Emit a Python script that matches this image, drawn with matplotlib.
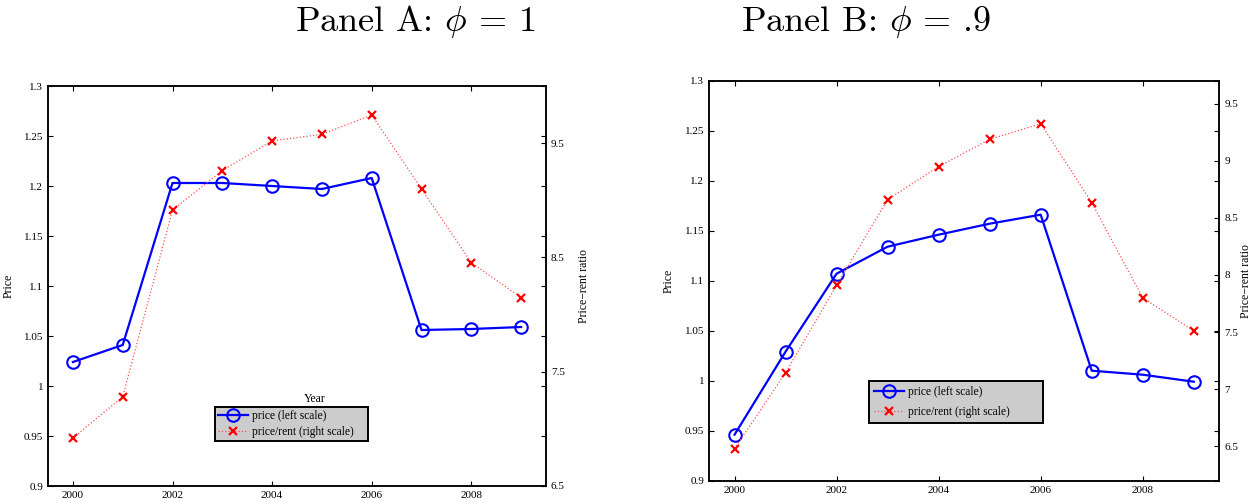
import matplotlib
matplotlib.use("Agg")
from matplotlib import pyplot as plt
import matplotlib.ticker as ticker

plt.rcParams["font.family"] = ["Liberation Serif", "DejaVu Serif"]
plt.rcParams["mathtext.fontset"] = "cm"

years = [2000, 2001, 2002, 2003, 2004, 2005, 2006, 2007, 2008, 2009]

# Panel A: phi = 1
price_a = [1.024, 1.041, 1.203, 1.203, 1.200, 1.197, 1.208, 1.056, 1.057, 1.059]
ratio_a = [6.92, 7.28, 8.915, 9.26, 9.52, 9.577, 9.746, 9.10, 8.454, 8.148]

# Panel B: phi = .9
price_b = [0.946, 1.029, 1.107, 1.134, 1.146, 1.157, 1.166, 1.010, 1.006, 0.999]
ratio_b = [6.48, 7.145, 7.91, 8.66, 8.948, 9.187, 9.324, 8.633, 7.80, 7.51]

left_ticks = [0.9, 0.95, 1.0, 1.05, 1.1, 1.15, 1.2, 1.25, 1.3]
year_ticks = [2000, 2002, 2004, 2006, 2008]

W, H = 1254, 503
fig = plt.figure(figsize=(W / 100, H / 100), dpi=100)

fs = 8


def panel(rect, price, ratio, rlim, rticks, legend_box, year_label,
          rlab_x, lspace, bpad):
    ax = fig.add_axes(rect)
    ax2 = ax.twinx()
    l1, = ax.plot(years, price, "-o", color="blue", lw=1.6, ms=9,
                  mfc="none", mew=1.5, label="price (left scale)")
    l2, = ax2.plot(years, ratio, ":x", color="#ff5050", mec="red", lw=0.9,
                   ms=6, mew=1.6, label="price/rent (right scale)")
    ax.set_xlim(1999.5, 2009.5)
    ax.set_ylim(0.9, 1.3)
    ax.set_yticks(left_ticks)
    ax.set_xticks(year_ticks)
    ax.yaxis.set_major_formatter(ticker.FormatStrFormatter("%g"))
    ax2.set_ylim(*rlim)
    ax2.set_yticks(rticks)
    ax2.yaxis.set_major_formatter(ticker.FormatStrFormatter("%g"))
    for a in (ax, ax2):
        for s in a.spines.values():
            s.set_linewidth(1.1)
        a.tick_params(direction="in", length=3.5, width=0.8, labelsize=fs)
    ax.tick_params(top=True, right=True)
    ax.set_ylabel("Price", fontsize=8.5)
    ax.yaxis.set_label_coords(-0.068, 0.5)
    ax2.set_ylabel("Price\u2212rent ratio", fontsize=8.5)
    ax2.yaxis.set_label_coords(rlab_x, 0.5)
    if year_label:
        ax.set_xlabel("Year", fontsize=8.5)
        ax.xaxis.set_label_coords(0.536, 0.232)
    x0, y0, x1, y1 = legend_box
    leg = fig.legend([l1, l2], [l1.get_label(), l2.get_label()],
                     loc="lower left",
                     bbox_to_anchor=(x0 / W, 1 - y1 / H, (x1 - x0) / W, (y1 - y0) / H),
                     bbox_transform=fig.transFigure, mode="expand",
                     borderaxespad=0, fontsize=8.3, fancybox=False,
                     framealpha=1, facecolor="#cccccc", edgecolor="black",
                     handlelength=2.6, handletextpad=0.3, borderpad=bpad,
                     labelspacing=lspace)
    leg.get_frame().set_linewidth(1.4)
    return ax, ax2


panel([48 / W, 1 - 486 / H, 498 / W, 400 / H], price_a, ratio_a,
      (6.5, 10.0), [6.5, 7.5, 8.5, 9.5], (215, 406, 368, 441), True,
      1.065, 0.3, 0.3)
panel([709 / W, 1 - 480.7 / H, 510.3 / W, 400 / H], price_b, ratio_b,
      (6.2, 9.7), [6.5, 7, 7.5, 8, 8.5, 9, 9.5], (869, 381, 1043, 423), False,
      1.04, 0.65, 0.45)

fig.text(415 / W, 1 - 22 / H, r"Panel A: $\phi$ = 1", family="cmr10",
         fontsize=26, ha="center", va="center")
fig.text(866 / W, 1 - 22 / H, r"Panel B: $\phi$ = .9", family="cmr10",
         fontsize=26, ha="center", va="center")

fig.savefig("out.png", dpi=100)
